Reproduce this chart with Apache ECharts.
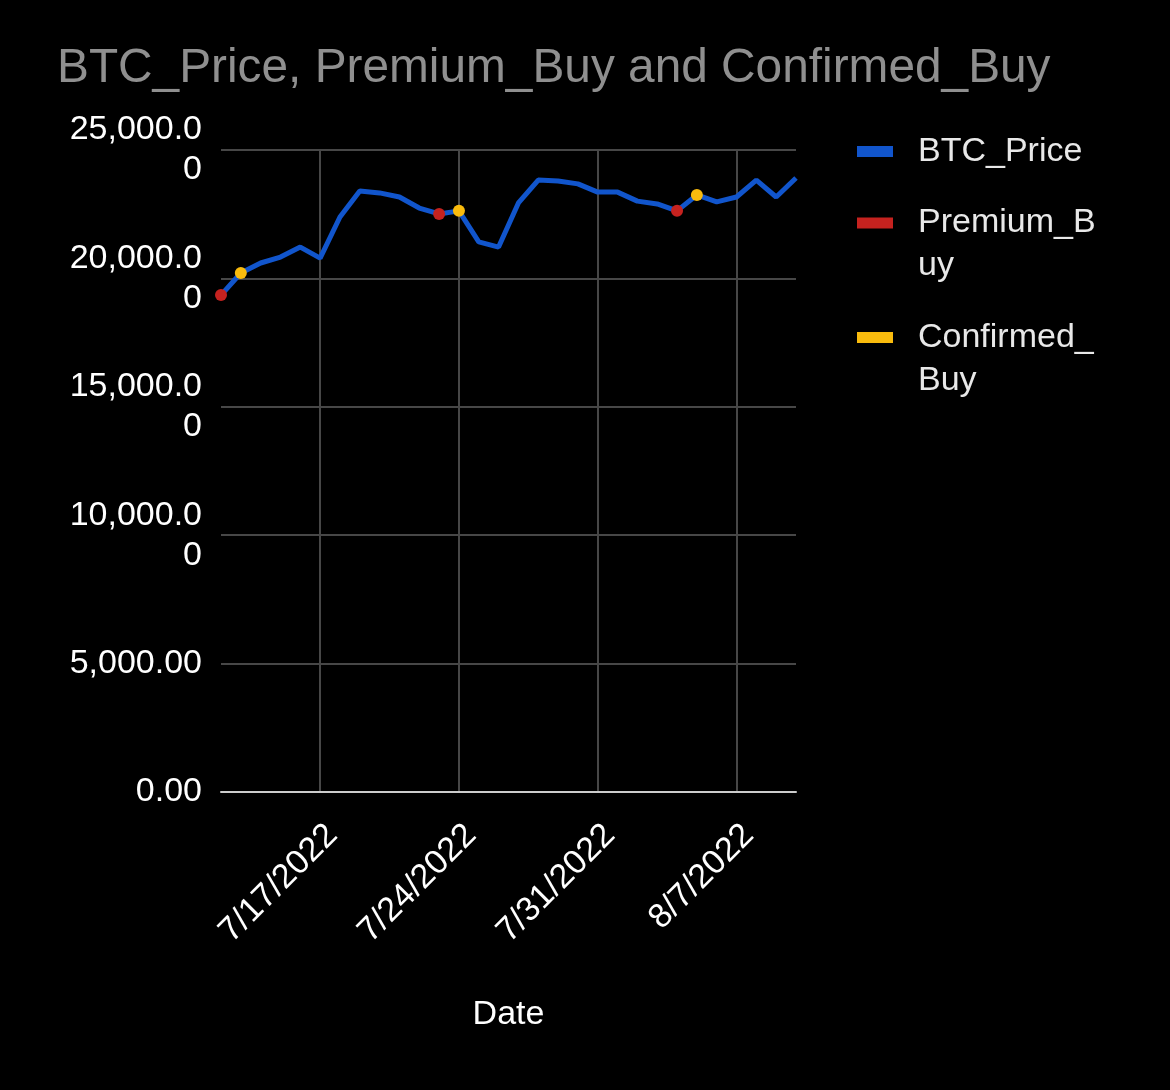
<!DOCTYPE html>
<html>
<head>
<meta charset="utf-8">
<script src="https://cdn.jsdelivr.net/npm/echarts@6/dist/echarts.min.js"></script>
<style>
  html, body { margin: 0; padding: 0; background: #000; }
  #chart { width: 1170px; height: 1090px; }
</style>
</head>
<body>
<div id="chart"></div>
<script>
const dates = [
  "7/12/2022", "7/13/2022", "7/14/2022", "7/15/2022", "7/16/2022", "7/17/2022",
  "7/18/2022", "7/19/2022", "7/20/2022", "7/21/2022", "7/22/2022", "7/23/2022",
  "7/24/2022", "7/25/2022", "7/26/2022", "7/27/2022", "7/28/2022", "7/29/2022",
  "7/30/2022", "7/31/2022", "8/1/2022", "8/2/2022", "8/3/2022", "8/4/2022",
  "8/5/2022", "8/6/2022", "8/7/2022", "8/8/2022", "8/9/2022", "8/10/2022",
];

const btcPrice = [
  19350, 20210, 20600, 20830, 21220, 20790,
  22390, 23400, 23330, 23170, 22740, 22510,
  22630, 21420, 21220, 22940, 23830, 23790,
  23680, 23360, 23360, 23010, 22900, 22630,
  23250, 22980, 23170, 23830, 23170, 23910,
];

// buy signals sit on the price line
const premiumBuy = [
  ["7/12/2022", 19350],
  ["7/23/2022", 22510],
  ["8/4/2022", 22630],
];

const confirmedBuy = [
  ["7/13/2022", 20210],
  ["7/24/2022", 22630],
  ["8/5/2022", 23250],
];

const yTicks = { min: 0, max: 25000, interval: 5000 };

const colors = {
  btc: "#1155cc",
  premium: "#c5221f",
  confirmed: "#f9bb0d",
  grid: "#474747",
  axis: "#cccccc",
  text: "#ffffff",
  legend: "#e8e8e8",
  title: "#8f8f8f",
};

const font = "Liberation Sans, Arial, sans-serif";

// weekly gridlines / labels starting at 7/17
const weekly = (i) => (i - 5) % 7 === 0;

const yLabel = (v) => {
  const s = v.toLocaleString("en-US", { minimumFractionDigits: 2, maximumFractionDigits: 2 });
  return s.length > 8 ? s.slice(0, 8) + "\n" + s.slice(8) : s;
};

// legend labels wrap like the original; a blank first line keeps the
// swatch level with the first text line
const legendLabel = (name) => {
  if (name === "Premium_Buy") return "\nPremium_B\nuy";
  if (name === "Confirmed_Buy") return "\nConfirmed_\nBuy";
  return name;
};

const chart = echarts.init(document.getElementById("chart"));

const options = {
  backgroundColor: "#000000",
  animation: false,
  title: {
    text: "BTC_Price, Premium_Buy and Confirmed_Buy",
    left: 57,
    top: 45,
    padding: 0,
    textStyle: {
      color: colors.title,
      fontFamily: font,
      fontSize: 47.8,
      fontWeight: "normal",
    },
  },
  legend: {
    orient: "vertical",
    left: 857,
    top: 130,
    padding: 0,
    itemWidth: 36,
    itemHeight: 11,
    itemGap: -14.5,
    icon: "rect",
    itemStyle: { opacity: 1 },
    textStyle: {
      color: colors.legend,
      fontFamily: font,
      fontSize: 34,
      lineHeight: 43,
      padding: [0, 0, 0, 20],
    },
    data: ["BTC_Price", "Premium_Buy", "Confirmed_Buy"],
    formatter: legendLabel,
  },
  grid: {
    left: 221,
    right: 374,
    top: 150,
    bottom: 298,
    containLabel: false,
  },
  xAxis: {
    type: "category",
    data: dates,
    boundaryGap: false,
    name: "Date",
    nameLocation: "middle",
    nameGap: 206,
    nameTextStyle: {
      color: colors.text,
      fontFamily: font,
      fontSize: 34,
    },
    axisLine: {
      lineStyle: { color: colors.axis, width: 2 },
    },
    axisTick: { show: false },
    axisLabel: {
      interval: weekly,
      rotate: 45,
      margin: 26,
      verticalAlign: "top",
      color: colors.text,
      fontFamily: font,
      fontSize: 34,
    },
    splitLine: {
      show: true,
      interval: weekly,
      lineStyle: { color: colors.grid, width: 2 },
    },
  },
  yAxis: {
    type: "value",
    min: yTicks.min,
    max: yTicks.max,
    interval: yTicks.interval,
    axisLine: { show: false },
    axisTick: { show: false },
    axisLabel: {
      margin: 19,
      formatter: yLabel,
      color: colors.text,
      fontFamily: font,
      fontSize: 34,
      lineHeight: 40,
      align: "right",
    },
    splitLine: {
      show: true,
      lineStyle: { color: colors.grid, width: 2 },
    },
  },
  series: [
    {
      name: "BTC_Price",
      type: "line",
      data: btcPrice,
      showSymbol: false,
      symbol: "none",
      color: colors.btc,
      lineStyle: { color: colors.btc, width: 5 },
      z: 2,
    },
    {
      name: "Premium_Buy",
      type: "scatter",
      data: premiumBuy,
      symbol: "circle",
      symbolSize: 12,
      color: colors.premium,
      itemStyle: { color: colors.premium, opacity: 1 },
      z: 3,
    },
    {
      name: "Confirmed_Buy",
      type: "scatter",
      data: confirmedBuy,
      symbol: "circle",
      symbolSize: 12,
      color: colors.confirmed,
      itemStyle: { color: colors.confirmed, opacity: 1 },
      z: 3,
    },
  ],
};

chart.setOption(options);
</script>
</body>
</html>
